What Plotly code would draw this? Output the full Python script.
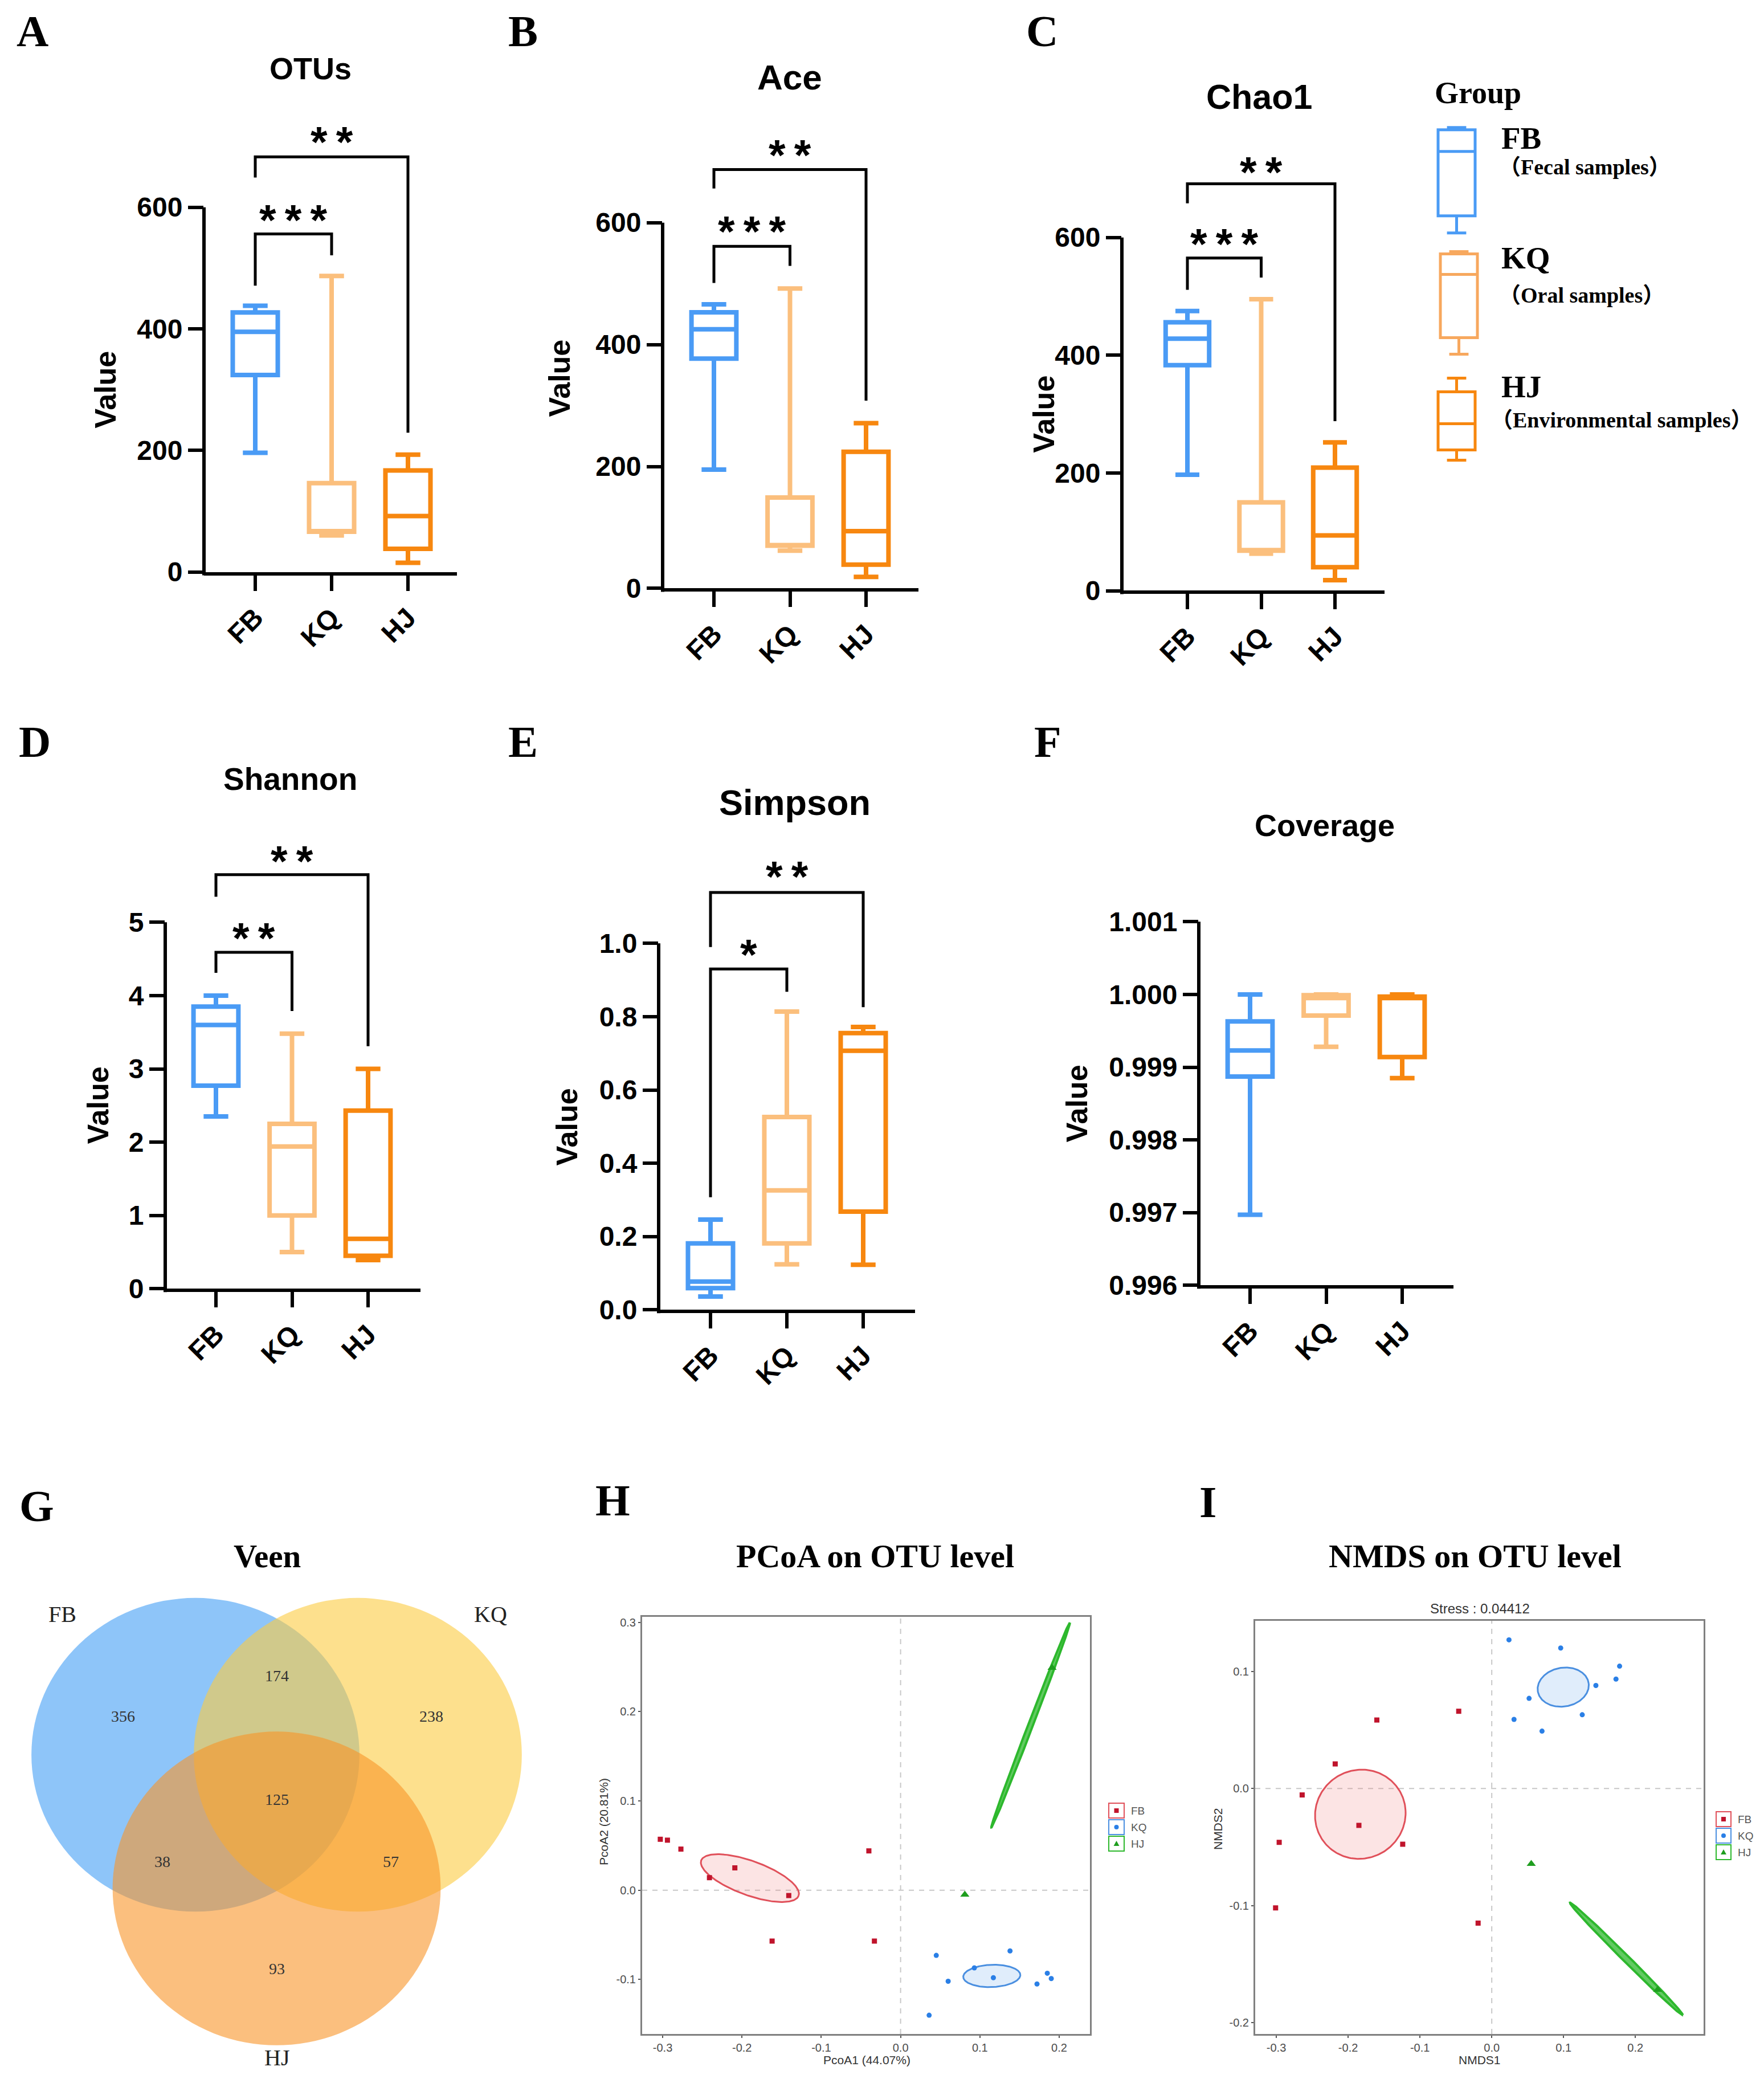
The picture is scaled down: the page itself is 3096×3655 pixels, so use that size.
import numpy as np
import plotly.graph_objects as go

W, H = 3096, 3655
SANS = "Liberation Sans, Arial, sans-serif"
SERIF = "Liberation Serif, Times New Roman, Noto Sans CJK SC, serif"

# ---------------------------------------------------------------- data
GROUPS = ["FB", "KQ", "HJ"]
BOX_COLORS = ["#4a9bf5", "#fbbf7d", "#f7870f"]

# [lower whisker, Q1, median, Q3, upper whisker] for FB, KQ, HJ
OTUS_STATS = [[196, 324, 395, 427, 438], [60, 66, 67, 146, 487], [15, 38, 92, 167, 193]]
ACE_STATS = [[195, 377, 425, 453, 466], [62, 70, 71, 149, 492], [19, 39, 94, 224, 271]]
CHAO1_STATS = [[197, 383, 428, 456, 475], [63, 68, 69, 150, 495], [18, 40, 94, 209, 252]]
SHANNON_STATS = [[2.35, 2.77, 3.60, 3.85, 4.00], [0.50, 1.00, 1.94, 2.25, 3.48], [0.39, 0.45, 0.68, 2.43, 3.00]]
SIMPSON_STATS = [[0.036, 0.059, 0.077, 0.181, 0.246], [0.124, 0.181, 0.326, 0.526, 0.814], [0.123, 0.268, 0.707, 0.755, 0.772]]
COVERAGE_STATS = [[0.99697, 0.99887, 0.99923, 0.99963, 1.00000], [0.99928, 0.99971, 0.99995, 0.99999, 1.00000], [0.99885, 0.99914, 0.99995, 0.99997, 1.00000]]

# significance brackets: (group a, group b, bar height, left end, right end, label, label height)
OTUS_SIG = [(0, 2, 683, 649, 229, "**", 724), (0, 1, 556, 471, 521, "***", 595)]
ACE_SIG = [(0, 2, 687, 656, 308, "**", 727), (0, 1, 561, 501, 529, "***", 602)]
CHAO1_SIG = [(0, 2, 691, 658, 288, "**", 728), (0, 1, 565, 511, 532, "***", 606)]
SHANNON_SIG = [(0, 2, 5.65, 5.35, 3.31, "**", 5.97), (0, 1, 4.59, 4.31, 3.79, "**", 4.92)]
SIMPSON_SIG = [(0, 2, 1.139, 0.99, 0.826, "**", 1.21), (0, 1, 0.93, 0.307, 0.868, "*", 0.997)]
COVERAGE_SIG = []

OTU_TICKS = [0, 200, 400, 600]
SHANNON_TICKS = [0, 1, 2, 3, 4, 5]
SIMPSON_TICKS = [0.0, 0.2, 0.4, 0.6, 0.8, 1.0]
COVERAGE_TICKS = [0.996, 0.997, 0.998, 0.999, 1.000, 1.001]

# Venn counts
VENN_SETS = ["FB", "KQ", "HJ"]
VENN_COUNTS = {"FB": 356, "FB&KQ": 174, "KQ": 238, "FB&KQ&HJ": 125, "FB&HJ": 38, "KQ&HJ": 57, "HJ": 93}

# PCoA scores
PCOA_FB_X = [-0.303, -0.294, -0.277, -0.241, -0.209, -0.141, -0.162, -0.040, -0.033]
PCOA_FB_Y = [0.057, 0.056, 0.046, 0.014, 0.025, -0.006, -0.057, 0.044, -0.057]
PCOA_KQ_X = [0.045, 0.060, 0.093, 0.117, 0.138, 0.172, 0.185, 0.190, 0.036]
PCOA_KQ_Y = [-0.073, -0.102, -0.087, -0.098, -0.068, -0.105, -0.093, -0.099, -0.140]
PCOA_HJ_X = [0.081, 0.191]
PCOA_HJ_Y = [-0.005, 0.249]
# ellipse: centre, semi-axis vector u, semi-axis vector v (data units)
PCOA_ELL = [((-0.190, 0.0135), (0.0614, -0.0198), (0.0074, 0.0180)),
            ((0.115, -0.096), (0.036, 0.001), (0.0, 0.0125)),
            ((0.164, 0.185), (0.0495, 0.1147), (0.0028, -0.0010))]

# NMDS scores
NMDS_FB_X = [-0.301, -0.296, -0.264, -0.218, -0.185, -0.160, -0.124, -0.046, -0.019]
NMDS_FB_Y = [-0.102, -0.046, -0.0055, 0.021, -0.0315, 0.0585, -0.0476, 0.066, -0.115]
NMDS_KQ_X = [0.024, 0.096, 0.178, 0.173, 0.145, 0.052, 0.031, 0.126, 0.070]
NMDS_KQ_Y = [0.127, 0.120, 0.1045, 0.0935, 0.088, 0.077, 0.059, 0.063, 0.049]
NMDS_HJ_X = [0.055, 0.231]
NMDS_HJ_Y = [-0.0644, -0.172]
NMDS_ELL = [((-0.183, -0.022), (0.063, 0.003), (-0.003, 0.038)),
            ((0.0995, 0.0866), (0.0355, 0.003), (-0.003, 0.0165)),
            ((0.1875, -0.1456), (0.0785, -0.048), (0.0031, 0.0019))]

ORD_TICKS_X = [-0.3, -0.2, -0.1, 0.0, 0.1, 0.2]
PCOA_TICKS_Y = [-0.1, 0.0, 0.1, 0.2, 0.3]
NMDS_TICKS_Y = [-0.2, -0.1, 0.0, 0.1]

# ---------------------------------------------------------------- helpers
def ty(py):
    return py * 1.0145 - 28.7


def clamp(v):
    return min(1.0, max(0.0, v))


def xp(px):
    return clamp(px / W)


def yp(py):
    return clamp(1 - ty(py) / H)


fig = go.Figure()
layout = dict(width=W, height=H, margin=dict(l=0, r=0, t=0, b=0),
              paper_bgcolor="white", plot_bgcolor="rgba(0,0,0,0)", showlegend=False)
shapes = []
annotations = []


def text(x, y, s, size, family=SANS, bold=True, color="black", angle=0, xanchor="center", yanchor="middle",
         xref="paper", yref="paper", yshift=0):
    annotations.append(dict(x=x if xref != "paper" else xp(x), y=y if yref != "paper" else yp(y),
                            xref=xref, yref=yref, text=s, showarrow=False, textangle=angle,
                            xanchor=xanchor, yanchor=yanchor, yshift=yshift,
                            font=dict(family=family, size=size, color=color,
                                      weight="bold" if bold else "normal")))


# ---------------------------------------------------------------- box panels
PANELS = [
    dict(stats=OTUS_STATS, sig=OTUS_SIG, ticks=OTU_TICKS, fmt="{:.0f}", ext=740,
         ax=358, fb=448, hj=716, end=802, ybot=1006, ytop=366,
         title="OTUs", tsize=54, txy=(545, 122), vxy=(185, 686), letter="A", lxy=(57, 57)),
    dict(stats=ACE_STATS, sig=ACE_SIG, ticks=OTU_TICKS, fmt="{:.0f}", ext=740,
         ax=1163, fb=1253, hj=1520, end=1612, ybot=1035, ytop=393,
         title="Ace", tsize=62, txy=(1386, 138), vxy=(982, 666), letter="B", lxy=(918, 57)),
    dict(stats=CHAO1_STATS, sig=CHAO1_SIG, ticks=OTU_TICKS, fmt="{:.0f}", ext=740,
         ax=1969, fb=2084, hj=2343, end=2430, ybot=1039, ytop=419,
         title="Chao1", tsize=61, txy=(2210, 172), vxy=(1832, 729), letter="C", lxy=(1829, 57)),
    dict(stats=SHANNON_STATS, sig=SHANNON_SIG, ticks=SHANNON_TICKS, fmt="{:.0f}", ext=6.2,
         ax=290, fb=379, hj=646, end=738, ybot=2264, ytop=1621,
         title="Shannon", tsize=55, txy=(510, 1370), vxy=(172, 1942), letter="D", lxy=(61, 1304)),
    dict(stats=SIMPSON_STATS, sig=SIMPSON_SIG, ticks=SIMPSON_TICKS, fmt="{:.1f}", ext=1.25,
         ax=1156, fb=1247, hj=1515, end=1606, ybot=2301, ytop=1658,
         title="Simpson", tsize=63, txy=(1395, 1411), vxy=(995, 1980), letter="E", lxy=(918, 1304)),
    dict(stats=COVERAGE_STATS, sig=COVERAGE_SIG, ticks=COVERAGE_TICKS, fmt="{:.3f}", ext=1.001,
         ax=2104, fb=2194, hj=2461, end=2551, ybot=2258, ytop=1620,
         title="Coverage", tsize=54, txy=(2325, 1451), vxy=(1890, 1939), letter="F", lxy=(1839, 1304)),
]

TICKFONT = dict(family=SANS, size=48, color="black", weight="bold")

for i, p in enumerate(PANELS, start=1):
    sfx = "" if i == 1 else str(i)
    xa, ya = "x" + sfx, "y" + sfx
    unit = (p["hj"] - p["fb"]) / 2.0
    xr = [(p["ax"] - p["fb"]) / unit, (p["end"] - p["fb"]) / unit]
    vb, vt = p["ticks"][0], p["ticks"][-1]
    ppu = (p["ybot"] - p["ytop"]) / (vt - vb)
    top_px = p["ybot"] - (p["ext"] - vb) * ppu
    layout["xaxis" + sfx] = dict(domain=[xp(p["ax"]), xp(p["end"])], range=xr, anchor=ya,
                                 tickvals=[0, 1, 2], ticktext=GROUPS, tickangle=-45,
                                 ticks="outside", ticklen=27, tickwidth=6, tickcolor="black",
                                 showline=True, linewidth=6, linecolor="black",
                                 showgrid=False, zeroline=False, tickfont=TICKFONT, fixedrange=True)
    layout["yaxis" + sfx] = dict(domain=[yp(p["ybot"]), yp(top_px)], range=[vb, p["ext"]], anchor=xa,
                                 tickvals=p["ticks"], ticktext=[p["fmt"].format(t) for t in p["ticks"]],
                                 ticks="outside", ticklen=27, tickwidth=6, tickcolor="black",
                                 showline=False, showgrid=False, zeroline=False, tickfont=TICKFONT,
                                 fixedrange=True)
    # y axis line (only up to the last tick)
    shapes.append(dict(type="line", xref="paper", yref="paper", x0=xp(p["ax"]), x1=xp(p["ax"]),
                       y0=yp(p["ybot"] + 6), y1=yp(p["ytop"]), line=dict(color="black", width=6)))
    for k, g in enumerate(GROUPS):
        lf, q1, med, q3, uf = p["stats"][k]
        fig.add_trace(go.Box(x=[k], lowerfence=[lf], q1=[q1], median=[med], q3=[q3], upperfence=[uf],
                             orientation="v", width=0.59, whiskerwidth=0.55, boxpoints=False,
                             fillcolor="white", line=dict(color=BOX_COLORS[k], width=8),
                             xaxis=xa, yaxis=ya, name=g, hoverinfo="skip"))
    for (a, b, bar, ya0, yb0, lab, ylab) in p["sig"]:
        shapes.append(dict(type="path", xref=xa, yref=ya,
                           path=f"M {a},{ya0} L {a},{bar} L {b},{bar} L {b},{yb0}",
                           line=dict(color="black", width=5)))
        text((a + b) / 2.0, ylab, "\u2009".join(lab), 76, xref=xa, yref=ya, yshift=-17)
    text(p["txy"][0], p["txy"][1], p["title"], p["tsize"])
    text(p["vxy"][0], p["vxy"][1], "Value", 52, angle=-90)
    text(p["lxy"][0], p["lxy"][1], p["letter"], 78, family=SERIF)

# ---------------------------------------------------------------- group legend (panel C side)
LEG_ITEMS = [
    dict(col="#4a9bf5", x0=2524, x1=2589, cap=(226, 411), box=(230, 381), med=268,
         name="FB", nxy=(2633, 245), desc="（Fecal samples）", dxy=(2629, 295)),
    dict(col="#f7a85e", x0=2528, x1=2593, cap=(444, 624), box=(448, 595), med=484,
         name="KQ", nxy=(2633, 455), desc="（Oral samples）", dxy=(2629, 520)),
    dict(col="#f7870f", x0=2524, x1=2589, cap=(666, 810), box=(690, 792), med=746,
         name="HJ", nxy=(2633, 681), desc="（Environmental samples）", dxy=(2615, 739)),
]
text(2594, 165, "Group", 54, family=SERIF)
for it in LEG_ITEMS:
    c = it["col"]
    cx = (it["x0"] + it["x1"]) / 2
    hw = (it["x1"] - it["x0"]) * 0.26
    ln = dict(color=c, width=5)
    shapes.append(dict(type="rect", xref="paper", yref="paper", x0=xp(it["x0"]), x1=xp(it["x1"]),
                       y0=yp(it["box"][1]), y1=yp(it["box"][0]), line=ln, fillcolor="white"))
    shapes.append(dict(type="line", xref="paper", yref="paper", x0=xp(it["x0"]), x1=xp(it["x1"]),
                       y0=yp(it["med"]), y1=yp(it["med"]), line=ln))
    for yy, yb in ((it["cap"][0], it["box"][0]), (it["cap"][1], it["box"][1])):
        shapes.append(dict(type="line", xref="paper", yref="paper", x0=xp(cx), x1=xp(cx),
                           y0=yp(yy), y1=yp(yb), line=ln))
        shapes.append(dict(type="line", xref="paper", yref="paper", x0=xp(cx - hw), x1=xp(cx + hw),
                           y0=yp(yy), y1=yp(yy), line=ln))
    text(it["nxy"][0], it["nxy"][1], it["name"], 55, family=SERIF, xanchor="left")
    text(it["dxy"][0], it["dxy"][1], it["desc"], 38, family=SERIF, xanchor="left")

# ---------------------------------------------------------------- Venn (G)
VENN_CENTERS = {"FB": (-0.5, 0.0), "KQ": (0.5, 0.0), "HJ": (0.0, -0.835)}
VENN_RX, VENN_RY = 1.01, 0.98
VENN_FILL = {"FB": "rgba(66,158,245,0.6)", "KQ": "rgba(252,203,65,0.6)", "HJ": "rgba(248,148,40,0.6)"}
VENN_LABEL_POS = {"FB": (-0.944, 0.242), "FB&KQ": (0.0, 0.495), "KQ": (0.951, 0.242),
                  "FB&KQ&HJ": (0.0, -0.281), "FB&HJ": (-0.705, -0.667), "KQ&HJ": (0.702, -0.667),
                  "HJ": (0.0, -1.337)}
VENN_NAME_POS = {"FB": (-1.319, 0.877), "KQ": (1.319, 0.877), "HJ": (0.0, -1.891)}
VPX = 285.0
vcx, vcy = 485.5, ty(3082.0)
vx0, vx1, vy0, vy1 = 40, 940, 2790, 3620
layout["xaxis7"] = dict(domain=[xp(vx0), xp(vx1)], range=[(vx0 - vcx) / VPX, (vx1 - vcx) / VPX],
                        visible=False, anchor="y7", fixedrange=True)
layout["yaxis7"] = dict(domain=[yp(vy1), yp(vy0)], range=[-(ty(vy1) - vcy) / VPX, (vcy - ty(vy0)) / VPX],
                        visible=False, anchor="x7", fixedrange=True)
for s in VENN_SETS:
    cx, cy = VENN_CENTERS[s]
    shapes.append(dict(type="circle", xref="x7", yref="y7", x0=cx - VENN_RX, x1=cx + VENN_RX,
                       y0=cy - VENN_RY, y1=cy + VENN_RY, fillcolor=VENN_FILL[s], line=dict(width=0)))
for key, val in VENN_COUNTS.items():
    lx, ly = VENN_LABEL_POS[key]
    text(lx, ly, str(val), 28, family=SERIF, bold=False, color="#333333", xref="x7", yref="y7")
for s in VENN_SETS:
    lx, ly = VENN_NAME_POS[s]
    text(lx, ly, s, 40, family=SERIF, bold=False, color="#222222", xref="x7", yref="y7")
text(469, 2733, "Veen", 57, family=SERIF)
text(64, 2645, "G", 78, family=SERIF)

# ---------------------------------------------------------------- ordination panels (H, I)
ORD_COLORS = ["#c0142c", "#2a7fe6", "#1f9e1f"]
ORD_SYMBOLS = ["square", "circle", "triangle-up"]
ELL_LINE = ["#e0505a", "#4a8fe0", "#2db82d"]
ELL_FILL = ["rgba(240,130,130,0.22)", "rgba(130,185,240,0.25)", "rgba(45,184,45,0.75)"]
ORD_FONT = dict(family=SANS, size=20, color="#4d4d4d")


def ord_panel(idx, dom_px, xr, yr, yticks, series, ells, xlabel, ylabel, lab_xy, legend_px):
    sfx = str(idx)
    xa, ya = "x" + sfx, "y" + sfx
    x0, x1, y0, y1 = dom_px
    common = dict(showline=True, mirror=True, linecolor="#808080", linewidth=3, ticks="outside",
                  ticklen=4, tickwidth=2, tickcolor="#555555", showgrid=False, zeroline=False,
                  tickfont=ORD_FONT, fixedrange=True)
    layout["xaxis" + sfx] = dict(domain=[xp(x0), xp(x1)], range=xr, anchor=ya, tickvals=ORD_TICKS_X,
                                 ticktext=["{:.1f}".format(t) for t in ORD_TICKS_X], **common)
    layout["yaxis" + sfx] = dict(domain=[yp(y1), yp(y0)], range=yr, anchor=xa, tickvals=yticks,
                                 ticktext=["{:.1f}".format(t) for t in yticks], **common)
    dash = dict(color="#c8c8c8", width=2, dash="dash")
    shapes.append(dict(type="line", xref=xa, yref=ya, x0=0, x1=0, y0=yr[0], y1=yr[1], line=dash, layer="below"))
    shapes.append(dict(type="line", xref=xa, yref=ya, x0=xr[0], x1=xr[1], y0=0, y1=0, line=dash, layer="below"))
    t = np.linspace(0, 2 * np.pi, 200)
    for k, ((cx, cy), (ux, uy), (vx, vy)) in enumerate(ells):
        ex = cx + np.cos(t) * ux + np.sin(t) * vx
        ey = cy + np.cos(t) * uy + np.sin(t) * vy
        fig.add_trace(go.Scatter(x=ex, y=ey, mode="lines", fill="toself", fillcolor=ELL_FILL[k],
                                 line=dict(color=ELL_LINE[k], width=3 if k < 2 else 4),
                                 xaxis=xa, yaxis=ya, hoverinfo="skip"))
    for k, (sx, sy) in enumerate(series):
        fig.add_trace(go.Scatter(x=sx, y=sy, mode="markers", xaxis=xa, yaxis=ya, hoverinfo="skip",
                                 marker=dict(symbol=ORD_SYMBOLS[k], color=ORD_COLORS[k],
                                             size=9 if k < 2 else 14, line=dict(width=0))))
    text(lab_xy[0][0], lab_xy[0][1], xlabel, 21, bold=False, color="#333333")
    text(lab_xy[1][0], lab_xy[1][1], ylabel, 21, bold=False, color="#333333", angle=-90)
    # legend keys
    kx0, kx1, ky = legend_px
    for k, g in enumerate(GROUPS):
        ytop = ky + k * 29
        shapes.append(dict(type="rect", xref="paper", yref="paper", x0=xp(kx0), x1=xp(kx1),
                           y0=yp(ytop + 26), y1=yp(ytop), line=dict(color=ELL_LINE[k], width=2),
                           fillcolor="rgba(0,0,0,0)"))
        mx, my = (kx0 + kx1) / 2, ytop + 13
        if k == 0:
            shapes.append(dict(type="rect", xref="paper", yref="paper", x0=xp(mx - 4), x1=xp(mx + 4),
                               y0=yp(my + 4), y1=yp(my - 4), line=dict(width=0), fillcolor=ORD_COLORS[k]))
        elif k == 1:
            shapes.append(dict(type="circle", xref="paper", yref="paper", x0=xp(mx - 4), x1=xp(mx + 4),
                               y0=yp(my + 4), y1=yp(my - 4), line=dict(width=0), fillcolor=ORD_COLORS[k]))
        else:
            shapes.append(dict(type="path", xref="paper", yref="paper",
                               path=f"M {xp(mx-5)},{yp(my+4)} L {xp(mx+5)},{yp(my+4)} L {xp(mx)},{yp(my-5)} Z",
                               line=dict(width=0), fillcolor=ORD_COLORS[k]))
        text(kx1 + 10, my, g, 19, bold=False, color="#555555", xanchor="left")


ord_panel(8, (1127, 1913, 2840, 3572), [-0.3259, 0.2388], [-0.161, 0.306], PCOA_TICKS_Y,
          [(PCOA_FB_X, PCOA_FB_Y), (PCOA_KQ_X, PCOA_KQ_Y), (PCOA_HJ_X, PCOA_HJ_Y)], PCOA_ELL,
          "PcoA1 (44.07%)", "PcoA2 (20.81%)", ((1521, 3618), (1059, 3200)), (1946, 1973, 3167))
text(1536, 2733, "PCoA on OTU level", 58, family=SERIF)
text(1075, 2635, "H", 78, family=SERIF)

ord_panel(9, (2203, 2990, 2847, 3572), [-0.3294, 0.295], [-0.2097, 0.1432], NMDS_TICKS_Y,
          [(NMDS_FB_X, NMDS_FB_Y), (NMDS_KQ_X, NMDS_KQ_Y), (NMDS_HJ_X, NMDS_HJ_Y)], NMDS_ELL,
          "NMDS1", "NMDS2", ((2597, 3618), (2137, 3212)), (3012, 3038, 3182))
text(2597, 2825, "Stress : 0.04412", 24, bold=False, color="#333333")
text(2589, 2733, "NMDS on OTU level", 58, family=SERIF)
text(2120, 2638, "I", 78, family=SERIF)

layout["shapes"] = shapes
layout["annotations"] = annotations
fig.update_layout(**layout)
fig.write_html("out.html", config={"displayModeBar": False},
               post_script="document.body.style.margin='0px';")
